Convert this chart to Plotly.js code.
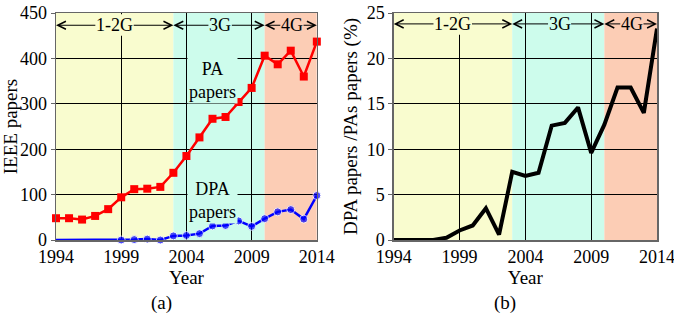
<!DOCTYPE html>
<html><head><meta charset="utf-8">
<script src="https://cdn.plot.ly/plotly-3.0.1.min.js"></script>
<style>html,body{margin:0;padding:0;background:#fff}#c{width:674px;height:318px}</style>
</head><body><div id="c"></div>
<script>
var years = [1994,1995,1996,1997,1998,1999,2000,2001,2002,2003,2004,2005,2006,2007,2008,2009,2010,2011,2012,2013,2014];
var paPapers = [48,48,45,53,68,94,112,113,117,148,185,226,267,271,304,335,406,387,417,360,437];
var dpaPapers = [0,0,0,0,0,0,1,2,0,9,10,14,31,32,42,30,47,62,67,46,98];
var ratioPct = [0,0,0,0,0.25,1.05,1.6,3.5,0.6,7.5,7.05,7.4,12.6,12.9,14.6,9.6,12.7,16.8,16.8,14.0,23.3];
var leftTickVals = [0,100,200,300,400,500];
var leftTickText = ['0','100','200','300','400','450'];
var rightTickVals = [0,5,10,15,20,25];
var xTickVals = [1994,1999,2004,2009,2014];
var eras = ['1-2G','3G','4G'];
var eraBounds = [1994,2003,2010,2014];
var eraLabelX = [1998.5,2006.6,2012.1];
var eraColors = ['#f9fccf','#cdfcec','#fccdb5'];

var FONT = 'Liberation Serif, Times New Roman, serif';
var dpaSizes = years.map(function(y){return y<1999?0:8;});

var traces = [
 {x:years,y:paPapers,xaxis:'x',yaxis:'y',mode:'lines+markers',cliponaxis:false,line:{color:'#ff0000',width:2.5},marker:{symbol:'square',size:8,color:'#ff0000'},hoverinfo:'skip'},
 {x:years,y:dpaPapers,xaxis:'x',yaxis:'y',mode:'lines+markers',cliponaxis:false,line:{color:'#0000ff',width:2.5},marker:{symbol:'circle',size:dpaSizes,color:'#0000ff'},hoverinfo:'skip'},
 {x:years,y:ratioPct,xaxis:'x2',yaxis:'y2',mode:'lines',cliponaxis:false,line:{color:'#000',width:4},hoverinfo:'skip'}
];

var shapes = [];
['x','x2'].forEach(function(xr){
  for(var i=0;i<3;i++){
    shapes.push({type:'rect',xref:xr,yref:(xr==='x'?'y':'y2')+' domain',x0:eraBounds[i],x1:eraBounds[i+1],y0:0,y1:1,fillcolor:eraColors[i],line:{width:0},layer:'below'});
  }
});

var annotations = [];
function eraArrows(xr, yr, yv){
  for(var i=0;i<3;i++){
    [eraBounds[i],eraBounds[i+1]].forEach(function(head){
      annotations.push({xref:xr,yref:yr,x:head,y:yv,axref:xr,ayref:yr,ax:eraLabelX[i],ay:yv,text:eras[i],showarrow:true,arrowhead:5,arrowsize:1.6,arrowwidth:1,arrowcolor:'#000',bgcolor:eraColors[i],borderpad:0,font:{family:FONT,size:18,color:'#000'}});
    });
  }
}
eraArrows('x','y',473);
eraArrows('x2','y2',23.8);
annotations.push({xref:'x',yref:'y',x:2006,y:352,text:'PA<br>papers',showarrow:false,bgcolor:'#cdfcec',font:{family:FONT,size:18,color:'#000'}});
annotations.push({xref:'x',yref:'y',x:2006,y:86,text:'DPA<br>papers',showarrow:false,bgcolor:'#cdfcec',font:{family:FONT,size:18,color:'#000'}});
annotations.push({xref:'paper',yref:'paper',x:0.176,y:-0.278,xanchor:'center',yanchor:'middle',text:'(a)',showarrow:false,font:{family:FONT,size:19,color:'#000'}});
annotations.push({xref:'paper',yref:'paper',x:0.747,y:-0.278,xanchor:'center',yanchor:'middle',text:'(b)',showarrow:false,font:{family:FONT,size:19,color:'#000'}});

var xCommon = {range:[1994,2014],tickvals:xTickVals,ticklabeloverflow:'allow',showgrid:true,gridcolor:'#000',gridwidth:1,zeroline:false,showline:true,mirror:true,linecolor:'#666',linewidth:1.5,ticks:'',tickfont:{family:FONT,size:18,color:'#000'},title:{text:'Year',font:{family:FONT,size:19,color:'#000'},standoff:0}};
var yCommon = {showgrid:true,gridcolor:'#000',gridwidth:1,zeroline:false,showline:true,mirror:true,linecolor:'#666',linewidth:1.5,ticks:'outside',ticklen:4,tickcolor:'#666',tickfont:{family:FONT,size:18,color:'#000'}};

var layout = {
  width:674,height:318,margin:{l:56,r:17,t:13,b:78},
  paper_bgcolor:'#fff',plot_bgcolor:'#fff',showlegend:false,
  font:{family:FONT,size:18,color:'#000'},
  xaxis:Object.assign({},xCommon,{domain:[0,0.434],anchor:'y'}),
  xaxis2:Object.assign({},xCommon,{domain:[0.562,1],anchor:'y2'}),
  yaxis:Object.assign({},yCommon,{range:[0,500],tickvals:leftTickVals,ticktext:leftTickText,anchor:'x',title:{text:'IEEE papers',font:{family:FONT,size:19,color:'#000'},standoff:4}}),
  yaxis2:Object.assign({},yCommon,{range:[0,25],tickvals:rightTickVals,anchor:'x2',title:{text:'DPA papers /PAs papers (%)',font:{family:FONT,size:19,color:'#000'},standoff:4}}),
  shapes:shapes,annotations:annotations
};
Plotly.newPlot('c',traces,layout,{displayModeBar:false,staticPlot:true});
</script></body></html>
